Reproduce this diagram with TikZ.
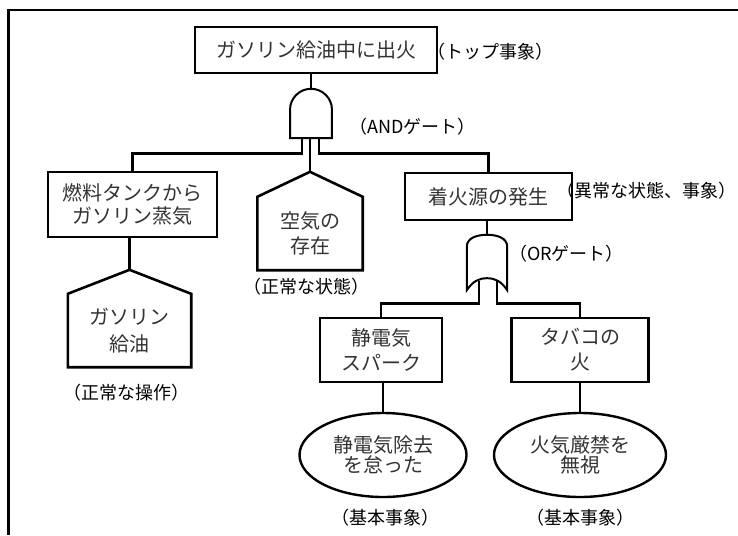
\documentclass[tikz,border=0pt]{standalone}
\usepackage{fontspec}
\setmainfont{Noto Sans CJK JP}
\usetikzlibrary{calc,shapes.geometric}
\begin{document}
\begin{tikzpicture}[x=1pt,y=-1pt,
  conn/.style={line width=2.6pt},
  evbox/.style={draw, line width=2.6pt, rectangle, inner sep=0pt, align=center, text=black!80},
  housebody/.style={inner sep=0pt, align=center, text=black!80},
  houseline/.style={draw, line width=2.6pt, line join=miter},
  gatebox/.style={inner sep=0pt, draw=none},
  gateline/.style={draw, line width=2pt, fill=white},
  basic/.style={draw, ellipse, line width=2.4pt, inner sep=0pt, align=center, text=black!80},
  note/.style={font=\fontsize{18}{20}\selectfont, inner sep=0pt},
  f20/.style={font=\fontsize{20}{#1}\selectfont}
]
\useasboundingbox (0,0) rectangle (738,535);

% frame
\draw[line width=2.6pt, line join=miter] (8.5,535) -- (8.5,10) -- (738,10);

% top event
\node[evbox, f20=23, minimum width=242pt, minimum height=46pt] (top) at (316,50) {ガソリン給油中に出火};

% AND gate
\node[gatebox, minimum width=41.5pt, minimum height=49pt] (and) at (311,113.5) {};
\draw[gateline] (and.south west) -- ($(and.north west)+(0,20.75)$)
  .. controls ($(and.north west)+(0,9.3)$) and ($(and.north)+(-11.46,0)$) .. (and.north)
  .. controls ($(and.north)+(11.46,0)$) and ($(and.north east)+(0,9.3)$) .. ($(and.north east)+(0,20.75)$)
  -- (and.south east) -- cycle;
\coordinate (andL) at ($(and.south)+(-9,0)$);
\coordinate (andM) at ($(and.south)+(-1,0)$);
\coordinate (andR) at ($(and.south)+(8,0)$);
\draw[conn] (and.north) -- (and.north |- top.south);

% fuel vapour box
\node[evbox, f20=23, minimum width=169pt, minimum height=65pt] (fuel) at (132.5,204.5) {燃料タンクから\\ガソリン蒸気};

% house: gasoline refuelling
\node[housebody, f20=27, minimum width=123pt, minimum height=73pt] (gas) at (129.5,330.5) {ガソリン\\給油};
\coordinate (gastop) at ($(gas.north)+(0,-24)$);
\draw[houseline] (gastop) -- (gas.north west) -- (gas.south west) -- (gas.south east) -- (gas.north east) -- cycle;

% house: air
\node[housebody, f20=25, minimum width=105pt, minimum height=73pt] (air) at (310,233.5) {空気の\\存在};
\coordinate (airtop) at ($(air.north)+(0,-25)$);
\draw[houseline] (airtop) -- (air.north west) -- (air.south west) -- (air.south east) -- (air.north east) -- cycle;

% ignition source box
\node[evbox, f20=23, minimum width=167pt, minimum height=47pt] (ign) at (488.5,196.5) {着火源の発生};

% AND connectors
\draw[conn] (andL) -- ++(0,15) -| (fuel.north);
\draw[conn] (andM) -- (airtop);
\draw[conn] (andR) -- ++(0,15) -| (ign.north);
\draw[conn] (gastop) -- (gastop |- fuel.south);

% OR gate
\node[gatebox, minimum width=40pt, minimum height=55pt] (or) at (487,262.5) {};
\draw[gateline] (or.south west) -- ($(or.north west)+(0,12)$)
  .. controls ($(or.north west)+(0,3)$) and ($(or.north)+(-10,0)$) .. (or.north)
  .. controls ($(or.north)+(10,0)$) and ($(or.north east)+(0,3)$) .. ($(or.north east)+(0,12)$)
  -- (or.south east)
  .. controls ($(or.south east)+(-6,-9)$) and ($(or.south)+(8,-12)$) .. ($(or.south)+(0,-12)$)
  .. controls ($(or.south)+(-8,-12)$) and ($(or.south west)+(6,-9)$) .. (or.south west) -- cycle;
\coordinate (orL) at ($(or.south)+(-8,-9)$);
\coordinate (orR) at ($(or.south)+(10,-9)$);
\draw[conn] (or.north) -- (or.north |- ign.south);

% static spark & cigarette boxes
\node[evbox, f20=25, minimum width=122pt, minimum height=64pt] (stat) at (381,350) {静電気\\スパーク};
\node[evbox, f20=25, minimum width=137pt, minimum height=64pt] (tob) at (580,350) {タバコの\\火};
\draw[conn] (orL) -- ++(0,22) -| (stat.north);
\draw[conn] (orR) -- ++(0,22) -| (tob.north);

% basic events
\node[basic, f20=20, minimum width=167pt, minimum height=84pt] (el1) at (383,455) {静電気除去\\を怠った};
\node[basic, f20=20, minimum width=172pt, minimum height=84pt] (el2) at (580,455) {火気厳禁を\\無視};
\draw[conn] (el1.north) -- (el1.north |- stat.south);
\draw[conn] (el2.north) -- (el2.north |- tob.south);

% notes
\node[note] (ntop) at (490,52) {（トップ事象）};
\node[note] (nand) at (412.5,127) {（ANDゲート）};
\node[note, anchor=east] (nign) at (737,191) {（異常な状態、事象）};
\node[note] (nor) at (566.5,254) {（ORゲート）};
\node[note] (nair) at (306,287) {（正常な状態）};
\node[note] (ngas) at (126,393) {（正常な操作）};
\node[note] (nb1) at (385.5,518) {（基本事象）};
\node[note] (nb2) at (580,518) {（基本事象）};
\end{tikzpicture}
\end{document}
